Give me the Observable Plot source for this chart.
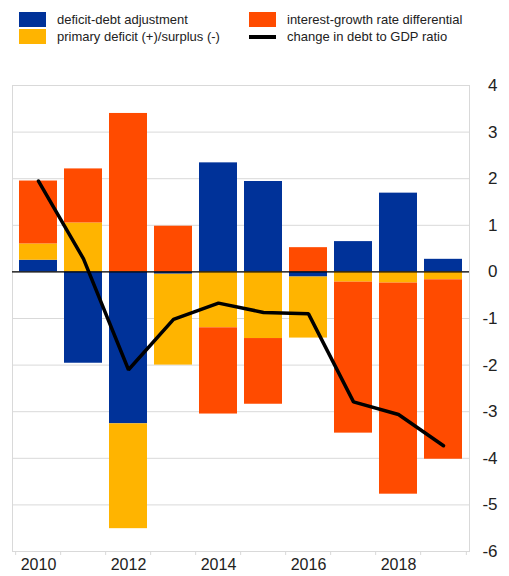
<!DOCTYPE html>
<html>
<head>
<meta charset="utf-8">
<script src="https://cdn.jsdelivr.net/npm/d3@7"></script>
<script src="https://cdn.jsdelivr.net/npm/@observablehq/plot@0.6"></script>
<style>
  body { margin: 0; background: #fff; font-family: "Liberation Sans", Arial, sans-serif; }
  #legend { position: relative; width: 509px; height: 50px; font-size: 13px; color: #222; }
  .item { position: absolute; display: flex; align-items: center; height: 15px; }
  .sw { width: 27px; height: 15px; margin-right: 11px; }
  .ln { width: 27px; height: 4px; margin: 5.5px 11px 5.5px 0; background: #000; }
</style>
</head>
<body>
<div id="legend"></div>
<div id="chart"></div>
<script>
const years = [2010, 2011, 2012, 2013, 2014, 2015, 2016, 2017, 2018, 2019];
const seriesNames = ["deficit-debt adjustment", "primary deficit (+)/surplus (-)", "interest-growth rate differential"];
const lineName = "change in debt to GDP ratio";
const seriesColors = ["#003299", "#FFB400", "#FF4B00"];
const deficitDebt    = [0.25, -1.96, -3.26, -0.05, 2.34, 1.94, -0.11, 0.65, 1.69, 0.27];
const primaryBalance = [0.35, 1.05, -2.25, -1.95, -1.20, -1.43, -1.31, -0.22, -0.24, -0.17];
const interestGrowth = [1.35, 1.16, 3.40, 0.98, -1.85, -1.41, 0.52, -3.24, -4.53, -3.85];
const debtChange     = [1.95, 0.28, -2.10, -1.02, -0.67, -0.87, -0.90, -2.79, -3.06, -3.73];
const yTicks = [-6, -5, -4, -3, -2, -1, 0, 1, 2, 3, 4];
const xLabelYears = [2010, 2012, 2014, 2016, 2018];

// legend
const legend = document.getElementById("legend");
const legendItems = [
  {name: seriesNames[0], color: seriesColors[0], left: 19, top: 12},
  {name: seriesNames[1], color: seriesColors[1], left: 19, top: 29},
  {name: seriesNames[2], color: seriesColors[2], left: 249, top: 12},
  {name: lineName, color: null, left: 249, top: 29}
];
for (const it of legendItems) {
  const d = document.createElement("div");
  d.className = "item";
  d.style.left = it.left + "px";
  d.style.top = it.top + "px";
  const s = document.createElement("div");
  if (it.color) { s.className = "sw"; s.style.background = it.color; } else { s.className = "ln"; }
  d.appendChild(s);
  const t = document.createElement("span");
  t.textContent = it.name;
  d.appendChild(t);
  legend.appendChild(d);
}

const bars = [];
[deficitDebt, primaryBalance, interestGrowth].forEach((vals, i) => {
  vals.forEach((v, j) => bars.push({year: years[j], series: seriesNames[i], value: v}));
});
const lineData = years.map((y, j) => ({year: y, value: debtChange[j]}));

const W = 509, H = 526, mL = 12, mR = 40, mT = 35, mB = 25;
const step = (W - mL - mR) / years.length;

const chart = Plot.plot({
  width: W,
  height: H,
  marginLeft: mL,
  marginRight: mR,
  marginTop: mT,
  marginBottom: mB,
  style: {fontFamily: "'Liberation Sans', Arial, sans-serif", background: "#fff", color: "#222"},
  x: {type: "band", domain: years, paddingInner: 0.16, paddingOuter: 0.08, axis: null, label: null},
  y: {domain: [-6, 4], axis: null, label: null},
  color: {domain: seriesNames, range: seriesColors},
  marks: [
    Plot.gridY(yTicks, {stroke: "#d9d9d9", strokeOpacity: 1, strokeWidth: 1}),
    Plot.frame({stroke: "#d9d9d9"}),
    Plot.barY(bars, Plot.stackY({x: "year", y: "value", fill: "series", order: null})),
    Plot.ruleY([0], {stroke: "#000", strokeWidth: 1.3}),
    Plot.line(lineData, {x: "year", y: "value", stroke: "#000", strokeWidth: 3.5, strokeLinejoin: "miter"}),
    Plot.axisY({anchor: "right", label: null, ticks: yTicks, tickSize: 0, tickPadding: 28, textAnchor: "end", fontSize: 17, tickFormat: d => String(d)}),
    Plot.axisX({label: null, ticks: years, tickSize: 4, tickFormat: () => "", dx: -step / 2, stroke: "#d9d9d9"}),
    Plot.axisX({label: null, ticks: [years[years.length - 1]], tickSize: 4, tickFormat: () => "", dx: step / 2, stroke: "#d9d9d9"}),
    Plot.axisX({label: null, ticks: xLabelYears, tickSize: 0, tickPadding: 7, fontSize: 16, tickFormat: d => String(d)})
  ]
});
document.getElementById("chart").appendChild(chart);
</script>
</body>
</html>
